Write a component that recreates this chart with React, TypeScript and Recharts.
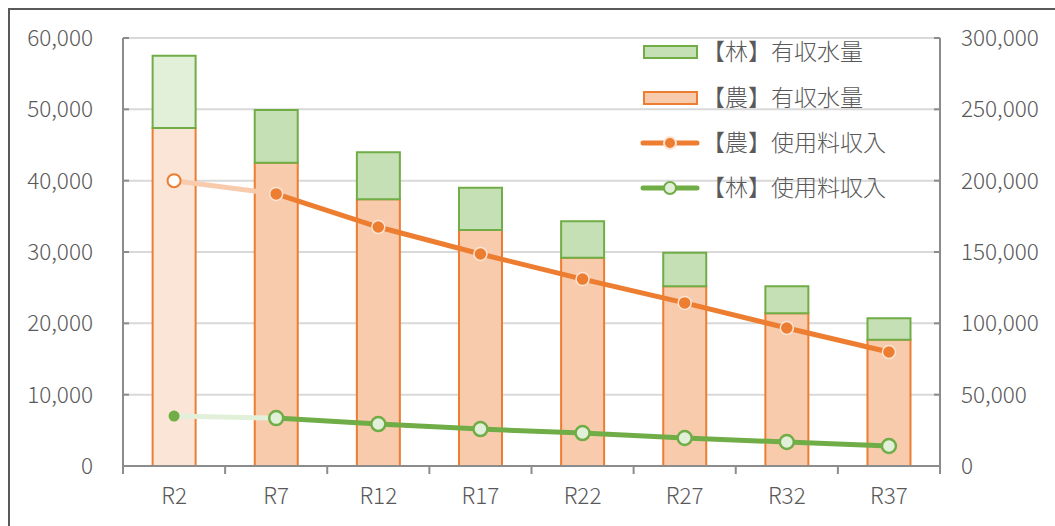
import React from "react";
import {
  ComposedChart,
  Bar,
  Line,
  XAxis,
  YAxis,
  CartesianGrid,
  Legend,
  Cell,
} from "recharts";

const categories = ["R2", "R7", "R12", "R17", "R22", "R27", "R32", "R37"];
// 有収水量 (left axis)
const nouWater = [47400, 42500, 37400, 33100, 29200, 25200, 21400, 17700];
const rinWater = [10100, 7400, 6600, 5900, 5100, 4700, 3800, 3000];
// 使用料収入 (right axis)
const nouIncome = [200000, 190700, 167500, 148600, 131000, 114300, 96700, 79900];
const rinIncome = [35000, 33600, 29400, 25900, 23100, 19600, 16800, 14000];

const leftTicks = [0, 10000, 20000, 30000, 40000, 50000, 60000];
const rightTicks = [0, 50000, 100000, 150000, 200000, 250000, 300000];

const ORANGE = "#ED7D31";
const ORANGE_FILL = "#F8CBAD";
const ORANGE_PALE = "#FBE5D6";
const GREEN = "#70AD47";
const GREEN_FILL = "#C5E0B4";
const GREEN_PALE = "#E2F0D9";
const AXIS = "#8C8C8C";
const TEXT = "#595959";
const FONT = "'Noto Sans CJK JP', 'Noto Sans', sans-serif";

const CHART_W = 1045;
const CHART_H = 516;
const LEFT_W = 113;
const RIGHT_W = 115;
const TOP = 28;
const X_H = 60;
const band = (CHART_W - LEFT_W - RIGHT_W) / categories.length;

const data = categories.map((name, i) => ({
  name,
  nouWater: nouWater[i],
  rinWater: rinWater[i],
  nouHead: i < 2 ? nouIncome[i] : null,
  nouMain: i > 0 ? nouIncome[i] : null,
  rinHead: i < 2 ? rinIncome[i] : null,
  rinMain: i > 0 ? rinIncome[i] : null,
}));

const fmt = (v: number) => v.toLocaleString("en-US");

function XTick(props: any) {
  const { x, y, payload, index } = props;
  const last = index === categories.length - 1;
  return (
    <g>
      <line x1={x - band / 2} x2={x - band / 2} y1={y} y2={y + 8} stroke={AXIS} strokeWidth={2} />
      {last && (
        <line x1={x + band / 2} x2={x + band / 2} y1={y} y2={y + 8} stroke={AXIS} strokeWidth={2} />
      )}
      <text x={x} y={y + 30} dy="0.355em" textAnchor="middle" fill={TEXT} fontSize={22.5} fontFamily={FONT} fontWeight={300}>
        {payload.value}
      </text>
    </g>
  );
}

function NouHeadDot(props: any) {
  const { cx, cy, index } = props;
  if (index !== 0 || cy == null) return null;
  return <circle key={`nh${index}`} cx={cx} cy={cy} r={6.5} fill="#FFFFFF" stroke={ORANGE} strokeWidth={2} />;
}

function NouMainDot(props: any) {
  const { cx, cy, index } = props;
  if (index === 0 || cy == null) return null;
  return <circle key={`nm${index}`} cx={cx} cy={cy} r={6.5} fill={ORANGE} stroke={ORANGE_PALE} strokeWidth={1.5} />;
}

function RinHeadDot(props: any) {
  const { cx, cy, index } = props;
  if (index !== 0 || cy == null) return null;
  return <circle key={`rh${index}`} cx={cx} cy={cy} r={5.5} fill={GREEN} />;
}

function RinMainDot(props: any) {
  const { cx, cy, index } = props;
  if (index === 0 || cy == null) return null;
  return <circle key={`rm${index}`} cx={cx} cy={cy} r={7} fill={GREEN_PALE} stroke={GREEN} strokeWidth={2.5} />;
}

const legendItems = [
  { label: "【林】有収水量", kind: "bar", fill: GREEN_FILL, stroke: GREEN },
  { label: "【農】有収水量", kind: "bar", fill: ORANGE_FILL, stroke: ORANGE },
  { label: "【農】使用料収入", kind: "line", fill: ORANGE, stroke: ORANGE, dotStroke: ORANGE_PALE },
  { label: "【林】使用料収入", kind: "line", fill: GREEN_PALE, stroke: GREEN, dotStroke: GREEN },
];
const legendRows = [22, 68, 113, 158];

function LegendContent() {
  return (
    <svg width={300} height={180}>
      {legendItems.map((item, i) => {
        const y = legendRows[i];
        return (
          <g key={item.label}>
            {item.kind === "bar" ? (
              <rect x={14} y={y - 6} width={53} height={12} fill={item.fill} stroke={item.stroke} strokeWidth={2} />
            ) : (
              <g>
                <line x1={13} x2={67} y1={y} y2={y} stroke={item.stroke} strokeWidth={5} strokeLinecap="round" />
                <circle cx={40} cy={y} r={6} fill={item.fill} stroke={item.dotStroke} strokeWidth={2} />
              </g>
            )}
            <text x={72} y={y} dy="0.36em" fill={TEXT} fontSize={23} fontFamily={FONT} fontWeight={300}>
              {item.label}
            </text>
          </g>
        );
      })}
    </svg>
  );
}

export default function App() {
  return (
    <div
      style={{
        position: "absolute",
        left: 8,
        top: 8,
        width: 1047,
        height: 518,
        boxSizing: "border-box",
        borderLeft: "2px solid #595959",
        borderTop: "2px solid #595959",
        background: "#FFFFFF",
        overflow: "hidden",
      }}
    >
      <ComposedChart
        width={CHART_W}
        height={CHART_H}
        data={data}
        margin={{ top: TOP, right: 0, bottom: 0, left: 0 }}
        barCategoryGap="29%"
      >
        <CartesianGrid yAxisId="left" vertical={false} stroke="#D9D9D9" strokeWidth={2} />
        <XAxis
          dataKey="name"
          height={X_H}
          axisLine={{ stroke: AXIS, strokeWidth: 2 }}
          tickLine={false}
          tickSize={0}
          tickMargin={0}
          tick={<XTick />}
          interval={0}
        />
        <YAxis
          yAxisId="left"
          width={LEFT_W}
          domain={[0, 60000]}
          ticks={leftTicks}
          tickFormatter={fmt}
          axisLine={{ stroke: AXIS, strokeWidth: 2 }}
          tickLine={{ stroke: AXIS, strokeWidth: 2 }}
          tickSize={-6}
          tickMargin={36}
          tick={{ fill: TEXT, fontSize: 22.5, fontFamily: FONT, fontWeight: 300 }}
        />
        <YAxis
          yAxisId="right"
          orientation="right"
          width={RIGHT_W}
          domain={[0, 300000]}
          ticks={rightTicks}
          tickFormatter={fmt}
          axisLine={{ stroke: AXIS, strokeWidth: 2 }}
          tickLine={{ stroke: AXIS, strokeWidth: 2 }}
          tickSize={-6}
          tickMargin={27}
          tick={{ fill: TEXT, fontSize: 22.5, fontFamily: FONT, fontWeight: 300, textAnchor: "start" }}
        />
        <Legend
          layout="horizontal"
          verticalAlign="middle"
          align="center"
          content={<LegendContent />}
          wrapperStyle={{ left: 620, top: 20, width: 300, height: 180 }}
        />
        <Bar yAxisId="left" dataKey="nouWater" stackId="w" stroke={ORANGE} strokeWidth={2} fill={ORANGE_FILL} isAnimationActive={false}>
          {data.map((d, i) => (
            <Cell key={d.name} fill={i === 0 ? ORANGE_PALE : ORANGE_FILL} />
          ))}
        </Bar>
        <Bar yAxisId="left" dataKey="rinWater" stackId="w" stroke={GREEN} strokeWidth={2} fill={GREEN_FILL} isAnimationActive={false}>
          {data.map((d, i) => (
            <Cell key={d.name} fill={i === 0 ? GREEN_PALE : GREEN_FILL} />
          ))}
        </Bar>
        <Line yAxisId="right" dataKey="nouHead" stroke={ORANGE_FILL} strokeWidth={5} dot={NouHeadDot} activeDot={false} isAnimationActive={false} />
        <Line yAxisId="right" dataKey="nouMain" stroke={ORANGE} strokeWidth={5} dot={NouMainDot} activeDot={false} isAnimationActive={false} />
        <Line yAxisId="right" dataKey="rinHead" stroke={GREEN_PALE} strokeWidth={5} dot={RinHeadDot} activeDot={false} isAnimationActive={false} />
        <Line yAxisId="right" dataKey="rinMain" stroke={GREEN} strokeWidth={5} dot={RinMainDot} activeDot={false} isAnimationActive={false} />
      </ComposedChart>
    </div>
  );
}
